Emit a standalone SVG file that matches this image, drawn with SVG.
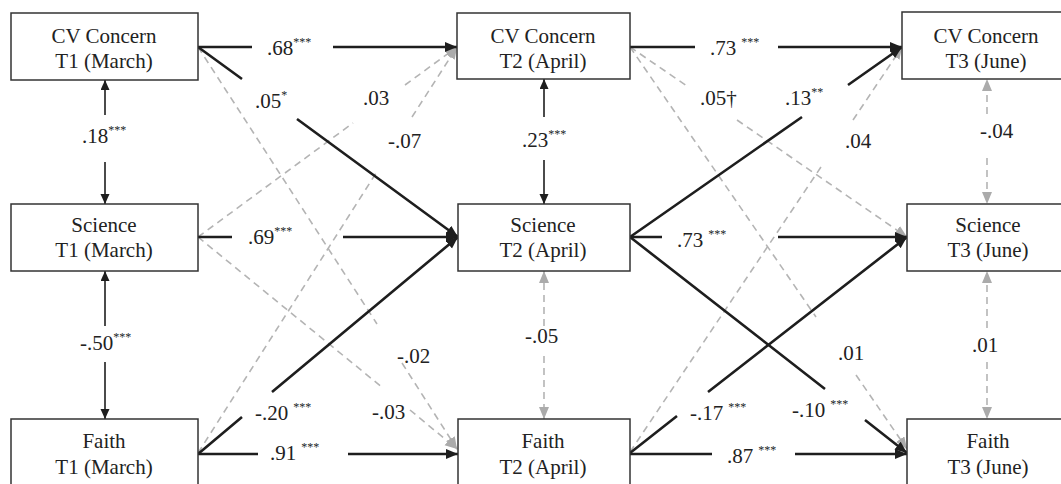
<svg xmlns="http://www.w3.org/2000/svg" width="1061" height="484" viewBox="0 0 1061 484">
<style>
.box{fill:#fff;stroke:#333;stroke-width:1.5}
.nt{text-anchor:middle}
.sup{font-size:12px}
.blk{fill:none;stroke:#1e1e1e;stroke-width:2.6}
.blkv{fill:none;stroke:#1e1e1e;stroke-width:1.6}
.gry{fill:none;stroke:#b4b4b4;stroke-width:1.6;stroke-dasharray:7 5}
</style>
<defs>
<marker id="ab" markerUnits="userSpaceOnUse" markerWidth="13" markerHeight="11" refX="12" refY="5" orient="auto"><path d="M0,0 L12,5 L0,10 z" fill="#1e1e1e"/></marker>
<marker id="av" markerUnits="userSpaceOnUse" markerWidth="11" markerHeight="10" refX="10" refY="4.5" orient="auto"><path d="M0,0 L10,4.5 L0,9 z" fill="#1e1e1e"/></marker>
<marker id="ag" markerUnits="userSpaceOnUse" markerWidth="13" markerHeight="11" refX="12" refY="5" orient="auto"><path d="M0,0 L12,5 L0,10 z" fill="#ababab"/></marker>
</defs>
<rect width="1061" height="484" fill="#fff"/>
<g id="connectors">
<path class="gry" d="M198,47 L377,324 M402,363 L457,449" marker-end="url(#ag)"/>
<path class="gry" d="M198,237 L353,123 M405,85 L457,47" marker-end="url(#ag)"/>
<path class="gry" d="M198,453 L378,170 M412,117 L457,47" marker-end="url(#ag)"/>
<path class="gry" d="M198,237 L383,388 M410,410 L457,449" marker-end="url(#ag)"/>
<path class="gry" d="M630,47 L687,86 M737,120 L907,237" marker-end="url(#ag)"/>
<path class="gry" d="M630,47 L816,317 M856,375 L907,449" marker-end="url(#ag)"/>
<path class="gry" d="M630,452 L821,167 M853,120 L902,47" marker-end="url(#ag)"/>
<path class="blk" d="M198,47 L252,47 M333,47 L457,47" marker-end="url(#ab)"/>
<path class="blk" d="M198,47 L242,79 M297,119 L458,237" marker-end="url(#ab)"/>
<path class="blk" d="M198,237 L232,237 M343,237 L458,237" marker-end="url(#ab)"/>
<path class="blk" d="M198,454 L242,417 M272,392 L458,237" marker-end="url(#ab)"/>
<path class="blk" d="M198,454 L258,454 M348,454 L458,454" marker-end="url(#ab)"/>
<path class="blk" d="M630,47 L695,47 M778,47 L902,47" marker-end="url(#ab)"/>
<path class="blk" d="M630,237 L802,117 M848,85 L902,47" marker-end="url(#ab)"/>
<path class="blk" d="M630,237 L662,237 M778,237 L907,237" marker-end="url(#ab)"/>
<path class="blk" d="M630,237 L825,389 M865,420 L907,453" marker-end="url(#ab)"/>
<path class="blk" d="M630,453 L677,416 M708,392 L907,237" marker-end="url(#ab)"/>
<path class="blk" d="M630,454 L712,454 M795,454 L907,454" marker-end="url(#ab)"/>
<path class="blkv" d="M105,115 L105,80" marker-end="url(#av)"/>
<path class="blkv" d="M105,162 L105,204" marker-end="url(#av)"/>
<path class="blkv" d="M105,326 L105,271" marker-end="url(#av)"/>
<path class="blkv" d="M105,362 L105,419" marker-end="url(#av)"/>
<path class="blkv" d="M544,117 L544,79" marker-end="url(#av)"/>
<path class="blkv" d="M544,160 L544,204" marker-end="url(#av)"/>
<path class="gry" d="M544,326 L544,271" marker-end="url(#ag)"/>
<path class="gry" d="M544,356 L544,419" marker-end="url(#ag)"/>
<path class="gry" d="M987,114 L987,79" marker-end="url(#ag)"/>
<path class="gry" d="M987,158 L987,204" marker-end="url(#ag)"/>
<path class="gry" d="M987,328 L987,271" marker-end="url(#ag)"/>
<path class="gry" d="M987,362 L987,419" marker-end="url(#ag)"/>
</g>
<g font-family="Liberation Serif, Times New Roman, serif" font-size="21" fill="#222">
<g id="labels">
<text x="267" y="55">.68<tspan class="sup" dy="-9">***</tspan></text>
<text x="255" y="108">.05<tspan class="sup" dy="-9">*</tspan></text>
<text x="363" y="105">.03</text>
<text x="388" y="148">-.07</text>
<text x="82" y="143">.18<tspan class="sup" dy="-9">***</tspan></text>
<text x="248" y="244">.69<tspan class="sup" dy="-9">***</tspan></text>
<text x="80" y="350">-.50<tspan class="sup" dy="-9">***</tspan></text>
<text x="397" y="363">-.02</text>
<text x="255" y="420">-.20<tspan class="sup" dx="5" dy="-9">***</tspan></text>
<text x="372" y="419">-.03</text>
<text x="270" y="460">.91<tspan class="sup" dx="5" dy="-9">***</tspan></text>
<text x="522" y="147">.23<tspan class="sup" dy="-9">***</tspan></text>
<text x="710" y="55">.73<tspan class="sup" dx="5" dy="-9">***</tspan></text>
<text x="700" y="105">.05†</text>
<text x="785" y="105">.13<tspan class="sup" dy="-9">**</tspan></text>
<text x="845" y="148">.04</text>
<text x="980" y="138">-.04</text>
<text x="677" y="247">.73<tspan class="sup" dx="5" dy="-9">***</tspan></text>
<text x="525" y="343">-.05</text>
<text x="838" y="360">.01</text>
<text x="690" y="420">-.17<tspan class="sup" dx="5" dy="-9">***</tspan></text>
<text x="792" y="417">-.10<tspan class="sup" dx="5" dy="-9">***</tspan></text>
<text x="727" y="463">.87<tspan class="sup" dx="5" dy="-9">***</tspan></text>
<text x="972" y="352">.01</text>
</g>
<g id="cv1"><rect class="box" x="11" y="13" width="187" height="67"/><text class="nt" x="104" y="43">CV Concern</text><text class="nt" x="104" y="68">T1 (March)</text></g>
<g id="cv2"><rect class="box" x="457" y="13" width="173" height="66"/><text class="nt" x="543" y="43">CV Concern</text><text class="nt" x="543" y="68">T2 (April)</text></g>
<g id="cv3"><rect class="box" x="902" y="12" width="170" height="67"/><text class="nt" x="986" y="43">CV Concern</text><text class="nt" x="986" y="68">T3 (June)</text></g>
<g id="sci1"><rect class="box" x="11" y="204" width="187" height="67"/><text class="nt" x="104" y="232">Science</text><text class="nt" x="104" y="257">T1 (March)</text></g>
<g id="sci2"><rect class="box" x="458" y="204" width="172" height="67"/><text class="nt" x="543" y="232">Science</text><text class="nt" x="543" y="257">T2 (April)</text></g>
<g id="sci3"><rect class="box" x="907" y="204" width="165" height="67"/><text class="nt" x="988" y="232">Science</text><text class="nt" x="988" y="257">T3 (June)</text></g>
<g id="fa1"><rect class="box" x="11" y="419" width="187" height="80"/><text class="nt" x="104" y="448">Faith</text><text class="nt" x="104" y="474">T1 (March)</text></g>
<g id="fa2"><rect class="box" x="458" y="419" width="172" height="80"/><text class="nt" x="543" y="448">Faith</text><text class="nt" x="543" y="474">T2 (April)</text></g>
<g id="fa3"><rect class="box" x="907" y="419" width="165" height="80"/><text class="nt" x="988" y="448">Faith</text><text class="nt" x="988" y="474">T3 (June)</text></g>
</g>
</svg>
